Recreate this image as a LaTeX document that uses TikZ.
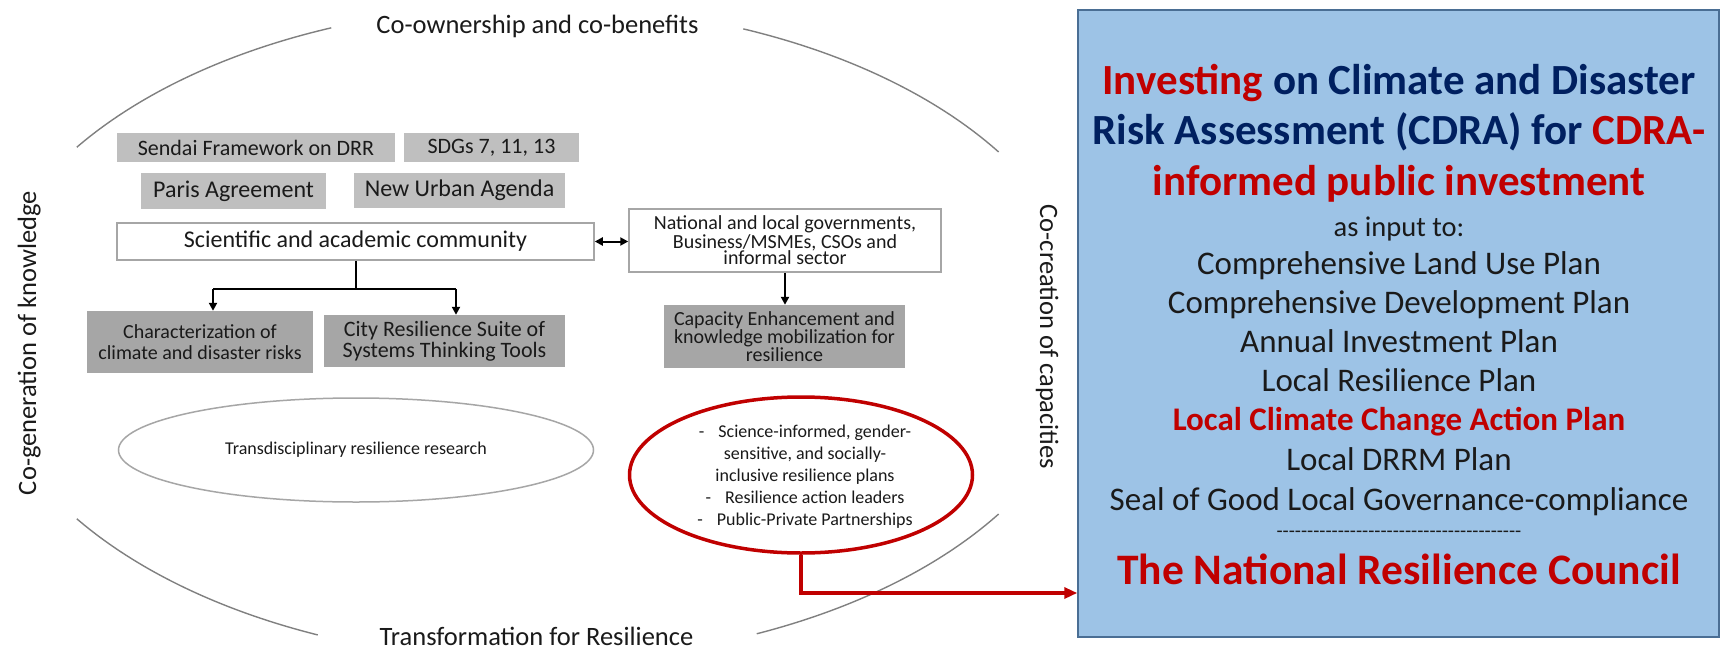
\documentclass[tikz,border=0pt]{standalone}
\usepackage{fontspec}
\setmainfont{Carlito}
\usetikzlibrary{arrows.meta,shapes.geometric,calc}
\definecolor{lightbox}{HTML}{BFBFBF}
\definecolor{darkbox}{HTML}{A6A6A6}
\definecolor{redc}{HTML}{C00000}
\definecolor{navy}{HTML}{002060}
\definecolor{bluefill}{HTML}{9DC3E6}
\definecolor{blueborder}{HTML}{4A6E94}
\definecolor{arcgray}{HTML}{808080}
\definecolor{txtdark}{HTML}{1A1A1A}
\newcommand{\fsz}[2]{\fontsize{#1pt}{#2pt}\selectfont}
\newcommand{\tenhy}{-{}-{}-{}-{}-{}-{}-{}-{}-{}-{}}
\begin{document}
\begin{tikzpicture}[x=1pt,y=-1pt,
  lbox/.style={rectangle, fill=lightbox, inner sep=0pt, align=center, text=txtdark},
  dbox/.style={rectangle, fill=darkbox, inner sep=0pt, align=center, text=txtdark},
  wbox/.style={rectangle, draw=darkbox, line width=1.5pt, fill=white, inner sep=0pt, align=center, text=txtdark},
  conn/.style={draw=black, line width=2pt},
  tip/.style={-{Triangle[length=8pt,width=8pt]}},
  redline/.style={draw=redc, line width=3.5pt},
  bigarc/.style={draw=arcgray, line width=1.4pt},
  lbl/.style={inner sep=0pt, font=\fsz{26.5}{30}, text=txtdark},
  plantxt/.style={inner sep=0pt, anchor=base, font=\fsz{33}{38}, text=txtdark}
]
\useasboundingbox (0,0) rectangle (1722,653);
\fill[white] (0,0) rectangle (1722,653);

% big ellipse arcs
\coordinate (E) at (535,333);
\draw[bigarc] (E) ++(-33.5:556 and 328) arc[start angle=-33.5, end angle=-68, x radius=556, y radius=328];
\draw[bigarc] (E) ++(-111.5:556 and 328) arc[start angle=-111.5, end angle=-145.5, x radius=556, y radius=328];
\draw[bigarc] (E) ++(145.5:556 and 328) arc[start angle=145.5, end angle=113, x radius=556, y radius=328];
\draw[bigarc] (E) ++(33.5:556 and 328) arc[start angle=33.5, end angle=66.5, x radius=556, y radius=328];

% labels on the ring
\node[lbl, anchor=base] (own) at (537.5,33) {Co-ownership and co-benefits};
\node[lbl, anchor=base] (trans) at (536.5,645) {Transformation for Resilience};
\node[lbl, anchor=base, rotate=90] (gen) at (36,343) {Co-generation of knowledge};
\node[lbl, anchor=base, rotate=-90] (cre) at (1040,337) {Co-creation of capacities};

% frameworks
\node[lbox, minimum width=278pt, minimum height=29pt, font=\fsz{22}{24}] (sendai) at (256,147.5) {Sendai Framework on DRR};
\node[lbox, minimum width=175pt, minimum height=29pt, font=\fsz{22}{24}] (sdgs) at (491.5,147.5) {SDGs 7, 11, 13};
\node[lbox, minimum width=185pt, minimum height=36pt, font=\fsz{24}{26}] (paris) at (233.5,191) {Paris Agreement};
\node[lbox, minimum width=211pt, minimum height=35pt, font=\fsz{24}{26}] (nua) at (459.5,190.5) {New Urban Agenda};

% actors
\node[wbox, minimum width=477pt, minimum height=37pt, font=\fsz{24}{26}] (sci) at (355.5,241.5) {Scientific and academic community};
\node[wbox, minimum width=312pt, minimum height=63pt, font=\fsz{20}{16.5}] (nat) at (785,240.5) {National and local governments,\\Business/MSMEs, CSOs and\\informal sector};

% outputs
\node[dbox, minimum width=226pt, minimum height=62pt, font=\fsz{20}{21}] (char) at (200,342) {Characterization of\\climate and disaster risks};
\node[dbox, minimum width=241pt, minimum height=52pt, font=\fsz{22}{21}] (city) at (444.5,341) {City Resilience Suite of\\Systems Thinking Tools};
\node[dbox, minimum width=241pt, minimum height=63pt, font=\fsz{20}{16.5}] (cap) at (784.5,336.5) {Capacity Enhancement and\\knowledge mobilization for\\resilience};

% connectors
\draw[conn, {Triangle[length=8pt,width=8pt]}-{Triangle[length=8pt,width=8pt]}] (sci.east) -- (sci.east -| nat.west);
\coordinate (jl) at (213,289);
\coordinate (jr) at (456,289);
\draw[conn] (sci.south) -- (sci.south |- jl);
\draw[conn] (jl) -- (jr);
\draw[conn, tip] (jl) -- (jl |- char.north);
\draw[conn, tip] (jr) -- (jr |- city.north);
\draw[conn, tip] (nat.south) -- (nat.south |- cap.north);

% ellipses
\node[ellipse, draw=darkbox, line width=1.5pt, minimum width=475pt, minimum height=104pt, inner sep=0pt, font=\fsz{18}{20}, text=txtdark] (tdr) at (356,450) {Transdisciplinary resilience research};
\node[ellipse, redline, minimum width=343pt, minimum height=156pt, inner sep=0pt] (outc) at (801,475) {};
\node[inner sep=0pt, align=center, font=\fsz{18}{22}, text=txtdark] (outtxt) at (805,477) {-\hspace{14pt}Science-informed, gender-\\sensitive, and socially-\\inclusive resilience plans\\-\hspace{14pt}Resilience action leaders\\-\hspace{14pt}Public-Private Partnerships};

% plan box
\node[rectangle, draw=blueborder, line width=1.5pt, fill=bluefill, minimum width=641pt, minimum height=627pt, inner sep=0pt] (plan) at (1398.5,323.5) {};
\coordinate (rturn) at (801,593);
\draw[redline, -{Triangle[length=13pt,width=11pt]}] (outc.south) -- (rturn) -- (rturn -| plan.west);

\node[plantxt, font=\fsz{43}{48}\bfseries] (p1) at (1399,94) {\textcolor{redc}{Investing} \textcolor{navy}{on Climate and Disaster}};
\node[plantxt, font=\fsz{43}{48}\bfseries] (p2) at (1399,144) {\textcolor{navy}{Risk Assessment (CDRA) for} \textcolor{redc}{CDRA-}};
\node[plantxt, font=\fsz{43}{48}\bfseries, text=redc] (p3) at (1399,195) {informed public investment};
\node[plantxt, font=\fsz{28.5}{32}] (p4) at (1399,236) {as input to:};
\node[plantxt] (p5) at (1399,274) {Comprehensive Land Use Plan};
\node[plantxt] (p6) at (1399,313) {Comprehensive Development Plan};
\node[plantxt] (p7) at (1399,352) {Annual Investment Plan};
\node[plantxt] (p8) at (1399,391) {Local Resilience Plan};
\node[plantxt, font=\fsz{33}{38}\bfseries, text=redc] (p9) at (1399,430) {Local Climate Change Action Plan};
\node[plantxt] (p10) at (1399,470) {Local DRRM Plan};
\node[plantxt] (p11) at (1399,510) {Seal of Good Local Governance-compliance};
\node[plantxt, font=\fsz{20}{22}] (p12) at (1399,537) {\tenhy\tenhy\tenhy\tenhy};
\node[plantxt, font=\fsz{43.5}{48}\bfseries, text=redc] (p13) at (1399,584) {The National Resilience Council};
\end{tikzpicture}
\end{document}
